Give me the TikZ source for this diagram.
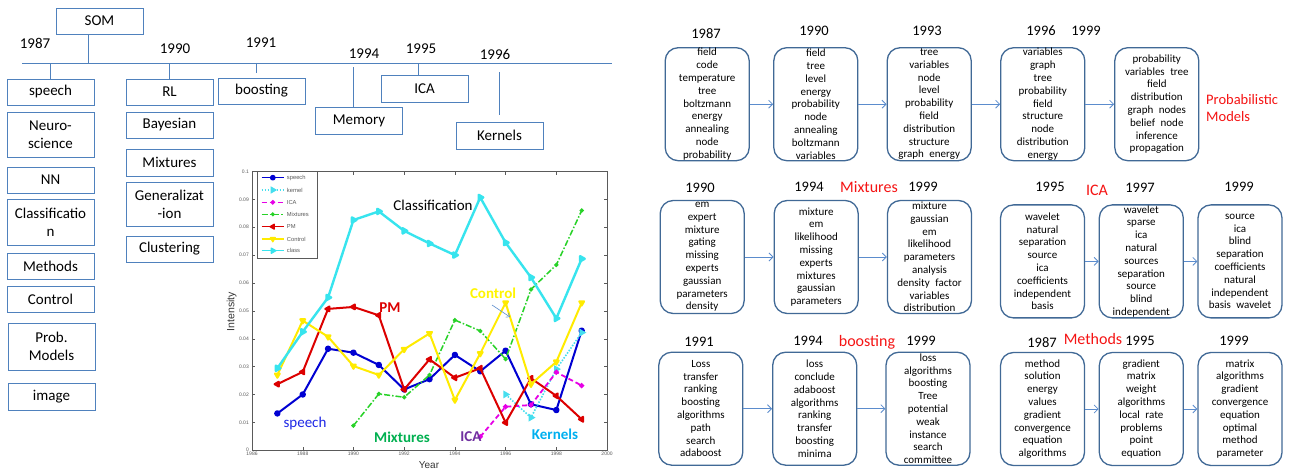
\documentclass[tikz,border=0pt]{standalone}
\usepackage{fontspec}
\setmainfont{Carlito}
\newfontfamily\arialf{Liberation Sans}
\usetikzlibrary{plotmarks,arrows.meta}
\definecolor{tlblue}{RGB}{79,129,189}
\definecolor{boxblue}{RGB}{65,105,150}
\definecolor{arrblue}{RGB}{91,140,205}
\definecolor{mred}{RGB}{245,20,20}
\definecolor{pspeech}{RGB}{0,0,210}
\definecolor{pclass}{RGB}{55,228,238}
\definecolor{ppm}{RGB}{220,0,0}
\definecolor{pctrl}{RGB}{255,235,0}
\definecolor{pmix}{RGB}{40,210,40}
\definecolor{pica}{RGB}{230,0,230}
\definecolor{pkern}{RGB}{70,222,238}
\definecolor{lgreen}{RGB}{0,176,80}
\definecolor{lpurple}{RGB}{112,48,160}
\definecolor{lcyan}{RGB}{0,176,240}
\definecolor{lyellow}{RGB}{255,245,0}
\definecolor{lblue}{RGB}{30,40,230}
\definecolor{axgray}{RGB}{90,90,90}
\begin{document}
\begin{tikzpicture}[x=1pt,y=-1pt,
 lbox/.style={draw=tlblue, line width=0.9pt, minimum width=87pt, minimum height=26pt, inner sep=1pt, align=center, font=\fontsize{15}{18}\selectfont},
 yr/.style={font=\fontsize{15}{17}\selectfont, inner sep=0pt},
 tl/.style={draw=tlblue, line width=0.9pt},
 rbox/.style={draw=boxblue, line width=1.3pt, rounded corners=13pt, minimum width=84pt, minimum height=113pt, inner sep=0pt},
 words/.style={align=center, font=\fontsize{11}{12.8}\selectfont, inner sep=0pt},
 ryr/.style={font=\fontsize{14.5}{16}\selectfont, inner sep=0pt},
 redlbl/.style={text=mred, font=\fontsize{16}{18}\selectfont, inner sep=0pt},
 arr/.style={draw=arrblue, line width=0.8pt, -{Straight Barb[length=4pt,width=8pt]}},
 tick/.style={draw=axgray, line width=0.4pt},
 ticklbl/.style={text=axgray, font=\arialf\fontsize{5}{6}\selectfont, inner sep=0pt},
 ann/.style={font=\fontsize{15}{17}\selectfont, inner sep=0pt},
 annb/.style={font=\bfseries\fontsize{15}{17}\selectfont, inner sep=0pt},
 lgtxt/.style={font=\arialf\fontsize{5.8}{7}\selectfont, text=axgray, anchor=west, inner sep=0pt},
 sline/.style={draw=pspeech, line width=2pt, line join=round, mark=*, mark size=2.2pt, mark options={solid, fill=pspeech}},
 kline/.style={draw=pkern, line width=1.6pt, dash pattern=on 1.5pt off 1.5pt, mark=triangle*, mark size=3pt, mark options={solid, rotate=-90, fill=pkern}},
 iline/.style={draw=pica, line width=1.8pt, dash pattern=on 5pt off 3pt, mark=*, mark size=1.6pt, mark options={solid, fill=pica}},
 mline/.style={draw=pmix, line width=1.5pt, dash pattern=on 6pt off 2pt on 1.5pt off 2pt, mark=*, mark size=1.3pt, mark options={solid, fill=pmix}},
 pline/.style={draw=ppm, line width=2pt, line join=round, mark=triangle*, mark size=2.8pt, mark options={solid, rotate=90, fill=ppm}},
 cline/.style={draw=pctrl, line width=2pt, line join=round, mark=triangle*, mark size=2.8pt, mark options={solid, rotate=180, fill=pctrl}},
 clline/.style={draw=pclass, line width=2.4pt, line join=round, mark=triangle*, mark size=3pt, mark options={solid, rotate=-90, fill=pclass}}
]
\fill[white] (0,0) rectangle (1293,470);
\useasboundingbox (0,0) rectangle (1293,470);

% ---------------- left timeline ----------------
\coordinate (tlA) at (22,63);
\coordinate (tlB) at (612,63);
\draw[tl] (tlA) -- (tlB);

\node[lbox] (som) at (99.5,21) {SOM};
\node[yr] (y1987) at (35,43) {1987};
\node[yr] (y1990) at (175,49) {1990};
\node[yr] (y1991) at (261,43) {1991};
\node[yr] (y1994) at (364,54) {1994};
\node[yr] (y1995) at (421,49) {1995};
\node[yr] (y1996) at (495,54) {1996};

\node[lbox] (speech) at (50.5,92) {speech};
\node[lbox, minimum height=45pt] (neuro) at (50.5,134.5) {Neuro-\\science};
\node[lbox] (nn) at (50.5,180) {NN};
\node[lbox, minimum height=46pt] (classif) at (50.5,222) {Classificatio\\n};
\node[lbox] (methods) at (50.5,266) {Methods};
\node[lbox] (control) at (50.5,299) {Control};
\node[lbox, minimum height=47pt] (probm) at (51.5,346.5) {Prob.\\Models};
\node[lbox, minimum height=27pt] (image) at (51.5,396.5) {image};

\node[lbox] (rl) at (169.5,92) {RL};
\node[lbox] (bayes) at (169.5,125) {Bayesian};
\node[lbox, minimum height=27pt] (mixt) at (169.5,162.5) {Mixtures};
\node[lbox, minimum height=44pt] (gener) at (169.5,204) {Generalizat\\-ion};
\node[lbox] (clust) at (169.5,249) {Clustering};

\node[lbox] (boost) at (261.5,91) {boosting};
\node[lbox, minimum height=27pt] (memory) at (359,120.5) {Memory};
\node[lbox, minimum height=27pt] (icab) at (424.5,88.5) {ICA};
\node[lbox, minimum height=27pt] (kern) at (499.5,135.5) {Kernels};

\coordinate (somc) at ([xshift=-11.5pt]som.south);
\draw[tl] (somc) -- (somc |- tlA);
\draw[tl] (speech.north) -- (speech.north |- tlA);
\draw[tl] (rl.north) -- (rl.north |- tlA);
\coordinate (boostc) at ([xshift=-5.5pt]boost.north);
\draw[tl] (boostc |- tlA) -- ++(0,10);
\coordinate (memc) at ([xshift=-6pt]memory.north);
\draw[tl] (memc) -- ++(0,-40);
\coordinate (icac) at ([xshift=-6.5pt]icab.north);
\draw[tl] (icac) -- (icac |- tlA);
\coordinate (kernc) at ([yshift=7pt]kern.north);
\draw[tl] (kernc) -- ++(0,-43);

% ---------------- plot ----------------
\begin{scope}[shift={(252,450.2)}, x=25.36pt, y=2786.7pt]
 \draw[tick, line width=0.5pt] (0,0) rectangle (14,0.1);
 \foreach \i/\lab in {0/1986,2/1988,4/1990,6/1992,8/1994,10/1996,12/1998,14/2000}{
   \draw[tick] (\i,0) -- ++(0,3pt);
   \draw[tick] (\i,0.1) -- ++(0,-3pt);
   \node[ticklbl, anchor=north] at ([yshift=-1.5pt]\i,0) {\lab};
 }
 \foreach \v/\lab in {0/0,0.01/0.01,0.02/0.02,0.03/0.03,0.04/0.04,0.05/0.05,0.06/0.06,0.07/0.07,0.08/0.08,0.09/0.09,0.1/0.1}{
   \draw[tick] (0,\v) -- ++(3pt,0);
   \draw[tick] (14,\v) -- ++(-3pt,0);
   \node[ticklbl, anchor=east] at ([xshift=-3pt]0,\v) {\lab};
 }
 \draw[sline] plot coordinates {(1,0.0132)(2,0.0200)(3,0.0364)(4,0.0350)(5,0.0306)(6,0.0218)(7,0.0255)(8,0.0342)(9,0.0283)(10,0.0357)(11,0.0165)(12,0.0144)(13,0.0429)};
 \draw[kline] plot coordinates {(10,0.0200)(11,0.0117)(12,0.0291)(13,0.0422)};
 \draw[iline] plot coordinates {(9,0.0048)(10,0.0156)(11,0.0162)(12,0.0280)(13,0.0232)};
 \draw[mline] plot coordinates {(4,0.0088)(5,0.0202)(6,0.0190)(7,0.0270)(8,0.0467)(9,0.0428)(10,0.0327)(11,0.0577)(12,0.0665)(13,0.0860)};
 \draw[pline] plot coordinates {(1,0.0237)(2,0.0281)(3,0.0507)(4,0.0514)(5,0.0484)(6,0.0218)(7,0.0326)(8,0.0260)(9,0.0294)(10,0.0099)(11,0.0258)(12,0.0195)(13,0.0111)};
 \draw[cline] plot coordinates {(1,0.0270)(2,0.0465)(3,0.0407)(4,0.0302)(5,0.0270)(6,0.0362)(7,0.0419)(8,0.0180)(9,0.0347)(10,0.0529)(11,0.0237)(12,0.0317)(13,0.0529)};
 \draw[clline] plot coordinates {(1,0.0294)(2,0.0425)(3,0.0548)(4,0.0826)(5,0.0857)(6,0.0787)(7,0.0742)(8,0.0700)(9,0.0907)(10,0.0745)(11,0.0620)(12,0.0473)(13,0.0687)};
\end{scope}

\node[font=\arialf\fontsize{10}{12}\selectfont, text=axgray!60!black, inner sep=0pt] (xlab) at (429,465) {Year};
\node[font=\arialf\fontsize{10.5}{12}\selectfont, text=axgray!60!black, inner sep=0pt, rotate=90] (ylab) at (231.7,311.7) {Intensity};

% legend
\draw[tick, fill=white, line width=0.5pt] (257.7,171) rectangle (317.7,258);
\foreach \y/\st/\lab in {177.7/sline/speech, 190/kline/kernel, 202.3/iline/ICA, 214.3/mline/Mixtures, 226.7/pline/PM, 239/cline/Control, 250.7/clline/class}{
  \draw[\st, line width=1.3pt] (261.7,\y) -- (284,\y);
  \draw[\st, line width=1.3pt] plot coordinates {(272.8,\y)};
  \node[lgtxt] at (286.7,\y) {\lab};
}

% annotations
\node[ann] (aclass) at (433,205) {Classification};
\node[annb, text=ppm] (apm) at (390,308) {PM};
\node[annb, text=lyellow] (actrl) at (493,293) {Control};
\node[ann, text=lblue] (aspeech) at (305,423) {speech};
\node[annb, text=lgreen] (amix) at (402,437) {Mixtures};
\node[annb, text=lpurple] (aica) at (471,437) {ICA};
\node[annb, text=lcyan] (akern) at (555,434) {Kernels};
\coordinate (carA) at (492,305);
\coordinate (carB) at (510,317);
\draw[draw=arrblue, line width=0.6pt, -{Straight Barb[length=3pt,width=5pt]}] (carA) -- (carB);

% ---------------- right: row 1 ----------------
\node[rbox] (p1) at (707.2,104.2) {};
\node[rbox] (p2) at (815.8,104.2) {};
\node[rbox] (p3) at (929.2,104.2) {};
\node[rbox] (p4) at (1042.8,104.2) {};
\node[rbox] (p5) at (1156.8,104.2) {};
\node[words] (p1t) at (p1) {field\\code\\temperature\\tree\\boltzmann\\energy\\annealing\\node\\probability};
\node[words] (p2t) at (p2) {field\\tree\\level\\energy\\probability\\node\\annealing\\boltzmann\\variables};
\node[words] (p3t) at (p3) {tree\\variables\\node\\level\\probability\\field\\distribution\\structure\\graph\enspace energy};
\node[words] (p4t) at (p4) {variables\\graph\\tree\\probability\\field\\structure\\node\\distribution\\energy};
\node[words] (p5t) at (p5) {probability\\variables\enspace tree\\field\\distribution\\graph\enspace nodes\\belief\enspace node\\inference\\propagation};
\node[ryr] (r1a) at (706,34) {1987};
\node[ryr] (r1b) at (814,31) {1990};
\node[ryr] (r1c) at (927,31) {1993};
\node[ryr] (r1d) at (1041,31) {1996};
\node[ryr] (r1e) at (1086,31) {1999};
\node[text=mred, font=\fontsize{14.5}{17.4}\selectfont, align=left, anchor=west, inner sep=0pt] (probl) at (1206,108) {Probabilistic\\Models};
\draw[arr] (p1.east) -- (p2.west);
\draw[arr] (p2.east) -- (p3.west);
\draw[arr] (p3.east) -- (p4.west);
\draw[arr] (p4.east) -- (p5.west);

% ---------------- row 2 ----------------
\node[rbox] (m1) at (702.2,257) {};
\node[rbox] (m2) at (816.2,257) {};
\node[rbox] (m3) at (929.5,257) {};
\node[words] (m1t) at (m1) {em\\expert\\mixture\\gating\\missing\\experts\\gaussian\\parameters\\density};
\node[words] (m2t) at (m2) {mixture\\em\\likelihood\\missing\\experts\\mixtures\\gaussian\\parameters};
\node[words] (m3t) at (m3) {mixture\\gaussian\\em\\likelihood\\parameters\\analysis\\density\enspace factor\\variables\\distribution};
\node[ryr] (r2a) at (700,188) {1990};
\node[ryr] (r2b) at (809,187) {1994};
\node[redlbl] (mixl) at (869,187) {Mixtures};
\node[ryr] (r2c) at (923,187) {1999};
\draw[arr] (m1.east) -- (m2.west);
\draw[arr] (m2.east) -- (m3.west);

\node[rbox] (i1) at (1042.5,261.4) {};
\node[rbox] (i2) at (1141.3,261.4) {};
\node[rbox] (i3) at (1240,261.4) {};
\node[words] (i1t) at (i1) {wavelet\\natural\\separation\\source\\ica\\coefficients\\independent\\basis};
\node[words] (i2t) at (i2) {wavelet\\sparse\\ica\\natural\\sources\\separation\\source\\blind\\independent};
\node[words] (i3t) at (i3) {source\\ica\\blind\\separation\\coefficients\\natural\\independent\\basis\enspace wavelet};
\node[ryr] (r2d) at (1050,187) {1995};
\node[redlbl] (ical) at (1097,190) {ICA};
\node[ryr] (r2e) at (1140,188) {1997};
\node[ryr] (r2f) at (1239,187) {1999};
\draw[arr] (i1.east) -- (i2.west);
\draw[arr] (i2.east) -- (i3.west);

% ---------------- row 3 ----------------
\node[rbox] (b1) at (700.8,408.7) {};
\node[rbox] (b2) at (814.7,408.7) {};
\node[rbox] (b3) at (928,408.7) {};
\node[words] (b1t) at (b1) {Loss\\transfer\\ranking\\boosting\\algorithms\\path\\search\\adaboost};
\node[words] (b2t) at (b2) {loss\\conclude\\adaboost\\algorithms\\ranking\\transfer\\boosting\\minima};
\node[words] (b3t) at (b3) {loss\\algorithms\\boosting\\Tree\\potential\\weak\\instance\\search\\committee};
\node[ryr] (r3a) at (699,342) {1991};
\node[ryr] (r3b) at (808,341) {1994};
\node[redlbl] (boostl) at (867,342) {boosting};
\node[ryr] (r3c) at (921,341) {1999};
\draw[arr] (b1.east) -- (b2.west);
\draw[arr] (b2.east) -- (b3.west);

\node[rbox] (e1) at (1042.5,409) {};
\node[rbox] (e2) at (1141.3,409) {};
\node[rbox] (e3) at (1240,409) {};
\node[words] (e1t) at (e1) {method\\solution\\energy\\values\\gradient\\convergence\\equation\\algorithms};
\node[words] (e2t) at (e2) {gradient\\matrix\\weight\\algorithms\\local\enspace rate\\problems\\point\\equation};
\node[words] (e3t) at (e3) {matrix\\algorithms\\gradient\\convergence\\equation\\optimal\\method\\parameter};
\node[ryr] (r3d) at (1042,343) {1987};
\node[redlbl] (methl) at (1093,339) {Methods};
\node[ryr] (r3e) at (1140,341) {1995};
\node[ryr] (r3f) at (1234,341) {1999};
\draw[arr] (e1.east) -- (e2.west);
\draw[arr] (e2.east) -- (e3.west);
\end{tikzpicture}
\end{document}
